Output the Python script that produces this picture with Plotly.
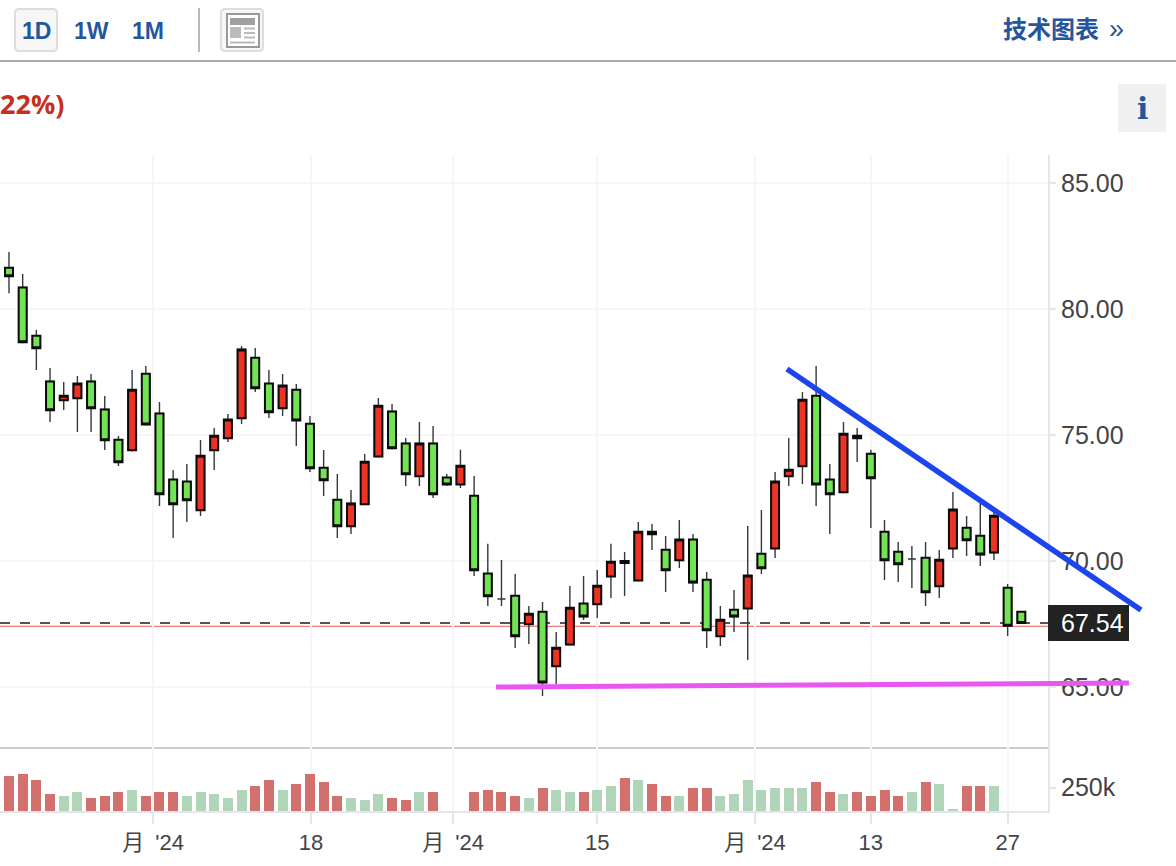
import plotly.graph_objects as go

W, H = 1176, 866
FONT = "Liberation Sans, Noto Sans CJK SC, sans-serif"

# ---- data ----
opens = [81.64,80.85,78.94,77.12,76.38,76.46,77.12,76.01,74.81,74.39,77.43,75.85,73.23,73.15,72.01,74.39,74.87,75.66,78.07,77.04,
         76.06,76.80,75.45,73.70,72.43,71.38,72.25,74.15,75.93,74.66,73.36,74.66,73.31,73.04,72.59,69.50,68.49,68.62,67.49,67.99,
         65.82,66.69,68.31,68.28,69.39,69.92,69.23,71.16,70.45,70.03,70.85,69.26,67.01,68.07,68.12,70.29,70.50,73.36,73.76,76.56,
         73.23,72.73,74.97,74.26,71.16,70.37,70.08,70.13,69.00,70.50,71.32,71.00,70.34,68.94,67.99]
highs = [82.26,81.39,79.17,77.66,77.10,77.34,77.42,76.55,74.96,77.58,77.74,76.31,73.61,73.85,74.80,75.28,75.83,78.53,78.45,77.58,
         77.42,77.02,75.75,74.40,73.45,72.82,74.25,76.47,76.23,74.88,75.52,75.36,73.45,74.41,73.37,70.68,70.04,69.48,68.21,68.37,
         67.18,69.01,69.41,69.64,70.68,70.36,71.55,71.47,70.99,71.63,71.07,69.56,68.21,68.85,71.39,72.02,73.53,74.88,76.71,77.74,
         73.85,75.52,75.28,74.41,71.63,70.75,70.60,70.75,70.44,72.74,71.79,72.34,71.94,69.09,67.99]
lows = [80.62,78.64,77.58,75.52,75.99,75.12,75.12,74.40,73.77,74.35,75.38,72.18,70.91,71.55,71.79,73.61,74.72,75.44,76.71,75.67,
        75.75,74.56,73.53,72.58,70.91,71.07,72.21,74.11,74.43,72.98,72.98,72.50,72.98,72.90,69.41,68.21,68.21,66.55,66.71,64.64,
        65.12,66.65,67.66,67.74,68.53,68.61,69.19,70.44,68.77,69.72,68.77,66.55,66.63,67.18,66.07,69.48,70.12,72.98,73.06,72.18,
        71.07,72.69,73.93,71.31,69.25,69.17,68.93,68.21,68.53,70.12,70.20,69.80,70.04,67.02,67.54]
closes = [81.30,78.68,78.44,75.98,76.56,77.04,76.06,74.79,73.92,76.80,75.42,72.65,72.25,72.41,74.18,74.97,75.61,78.39,76.85,75.90,
          76.96,75.58,73.68,73.20,71.38,72.28,73.94,76.16,74.47,73.44,74.66,72.65,73.04,73.78,69.63,68.60,68.49,67.01,67.91,65.18,
          66.56,68.15,67.80,69.02,69.97,70.00,71.16,71.06,69.63,70.85,69.15,67.25,67.67,67.80,69.42,69.71,73.15,73.62,76.40,73.04,
          72.65,75.05,74.87,73.28,70.03,69.87,70.08,68.76,70.05,72.04,70.82,70.26,71.80,67.43,67.54]
volumes = [375,396,332,182,161,204,139,161,204,225,161,204,204,161,204,182,139,225,268,332,
           225,289,396,311,161,139,118,182,139,118,204,204,None,None,204,225,204,161,139,246,
           225,204,204,225,268,354,332,289,161,161,246,246,161,182,332,225,246,246,246,311,
           204,182,204,161,225,161,204,311,289,11,268,268,268]
vol_side = list("rrrrggrrrgrrrgggggrrgrrrrgggrrgr") + ["r", "r"] + list("rrrrgrggr") + \
           list("ggrgrrgrrgggggggrrgrrrrgrggrrg")
tick_pos = [10.53, 22.07, 32.46, 43.0, 54.53, 63.0, 73.0]
tick_text = ["月\u2002'24", "18", "月\u2002'24", "15", "月\u2002'24", "13", "27"]
price_ticks = [65, 70, 75, 80, 85]
last_close = 67.54
ref_price = 67.41
trend_blue_x, trend_blue_y = [56.87, 82.75], [77.62, 68.06]
trend_pink_x, trend_pink_y = [35.6, 81.87], [65.00, 65.16]

days = list(range(len(opens)))
vol_days = days[:len(volumes)]
body = [i for i in days if opens[i] != closes[i]]

# ---- style ----
RED, GREEN = "#ee3224", "#72e352"
VRED, VGREEN = "#d1706d", "#b0d5b8"
BLUE = "#25569b"
AX = "#e3e6ec"
GRID = "#f6f6f6"
TXT = "#444444"


def px(x):
    return x / W


def py(y):
    return 1 - y / H


def rrect(x0, y0, x1, y1, r, **kw):
    a, b, c, d = px(x0), py(y0), px(x1), py(y1)
    rx, ry = r / W, r / H
    path = (f"M{a+rx},{b} L{c-rx},{b} Q{c},{b} {c},{b-ry} L{c},{d+ry} Q{c},{d} {c-rx},{d} "
            f"L{a+rx},{d} Q{a},{d} {a},{d+ry} L{a},{b-ry} Q{a},{b} {a+rx},{b} Z")
    return dict(type="path", path=path, xref="paper", yref="paper", **kw)


def rect(x0, y0, x1, y1, fill=None, line=None, lw=0):
    return dict(type="rect", xref="paper", yref="paper", x0=px(x0), x1=px(x1), y0=py(y0), y1=py(y1),
                fillcolor=fill or "rgba(0,0,0,0)", line=dict(color=line or "rgba(0,0,0,0)", width=lw))


def hline(x0, x1, y, color, lw):
    return dict(type="line", xref="paper", yref="paper", x0=px(x0), x1=px(x1), y0=py(y), y1=py(y),
                line=dict(color=color, width=lw))


def label(x, y, text, size, color, anchor="center", bold=False, family=FONT):
    t = f"<b>{text}</b>" if bold else text
    return dict(xref="paper", yref="paper", x=px(x), y=py(y), text=t, showarrow=False, xanchor=anchor,
                yanchor="middle", font=dict(size=size, color=color, family=family))


fig = go.Figure()

# wicks (and flat sessions)
fig.add_trace(go.Candlestick(
    x=days, open=opens, high=highs, low=lows, close=closes, xaxis="x", yaxis="y",
    increasing=dict(line=dict(color="#33393c", width=1.4), fillcolor="rgba(0,0,0,0)"),
    decreasing=dict(line=dict(color="#33393c", width=1.4), fillcolor="rgba(0,0,0,0)"),
    whiskerwidth=0, hoverinfo="skip", showlegend=False))
# bodies
b_open = [opens[i] for i in body]
b_close = [closes[i] for i in body]
fig.add_trace(go.Candlestick(
    x=body, open=b_open, close=b_close,
    high=[max(o, c) for o, c in zip(b_open, b_close)],
    low=[min(o, c) for o, c in zip(b_open, b_close)],
    xaxis="x", yaxis="y",
    increasing=dict(line=dict(color="#0b0b0b", width=2), fillcolor=RED),
    decreasing=dict(line=dict(color="#0b0b0b", width=2), fillcolor=GREEN),
    whiskerwidth=0, hoverinfo="skip", showlegend=False))
# volume
fig.add_trace(go.Bar(
    x=vol_days, y=volumes, xaxis="x2", yaxis="y2", width=0.73,
    marker=dict(color=[VRED if s == "r" else VGREEN for s in vol_side], line=dict(width=0)),
    showlegend=False))
# hand-drawn trend lines, allowed to run over the axis labels
fig.add_trace(go.Scatter(x=trend_pink_x, y=trend_pink_y, mode="lines", xaxis="x3", yaxis="y3",
                         line=dict(color="#e857f0", width=5), showlegend=False))
fig.add_trace(go.Scatter(x=trend_blue_x, y=trend_blue_y, mode="lines", xaxis="x3", yaxis="y3",
                         line=dict(color="#1c45ee", width=5.5), showlegend=False))

XR = [-0.658, 75.95]
YR = [62.62, 86.11]
P_DOM = [py(747), py(155)]
V_DOM = [py(811), py(747)]

shapes = [
    dict(type="line", xref="paper", yref="y", x0=0, x1=px(1048), y0=ref_price, y1=ref_price,
         line=dict(color="#ee5a52", width=1), layer="below"),
    dict(type="line", xref="paper", yref="y", x0=0, x1=px(1048), y0=last_close, y1=last_close,
         line=dict(color="#555555", width=2, dash="10px,10px"), layer="below"),
    rect(1048, 605, 1129, 641, fill="#222222"),
    # toolbar
    hline(0, W, 61, "#ababab", 2),
    rrect(15, 9, 57, 51, 4, fillcolor="#f7f7f7", line=dict(color="#dddddd", width=2)),
    dict(type="line", xref="paper", yref="paper", x0=px(199), x1=px(199), y0=py(8), y1=py(52),
         line=dict(color="#b8b8b8", width=2)),
    rrect(221, 9, 263, 51, 4, fillcolor="#f7f7f7", line=dict(color="#dddddd", width=2)),
    rect(227, 14, 259, 47, fill="#ffffff", line="#999999", lw=2),
    rect(230, 18, 255, 25, fill="#a0a0a0"),
    rect(230, 27, 241, 38, fill="#bbbbbb"),
    hline(244, 255, 28.5, "#bbbbbb", 2),
    hline(244, 255, 33, "#bbbbbb", 2),
    hline(244, 255, 37.5, "#bbbbbb", 2),
    hline(230, 255, 42.5, "#bbbbbb", 2),
    rect(1118, 84, 1166, 132, fill="#f0f0f0"),
]

annotations = [
    dict(xref="paper", yref="y", x=px(1059), y=last_close, text=f"{last_close:.2f}", showarrow=False,
         xanchor="left", yanchor="middle", font=dict(size=25, color="#ffffff", family=FONT)),
    label(36, 31, "1D", 23, BLUE, bold=True),
    label(91, 31, "1W", 23, BLUE, bold=True),
    label(148, 31, "1M", 23, BLUE, bold=True),
    label(1001, 30, "技术图表", 24, BLUE, "left", bold=True),
    label(1116, 29, "»", 27, BLUE),
    label(66, 104, "22%)", 27, "#c5301f", "right", bold=True, family="Open Sans"),
    label(1142, 108, "i", 30, BLUE, bold=True, family="DejaVu Serif"),
]

common_x = dict(type="linear", range=XR, domain=[0, px(1048)], tickmode="array", tickvals=tick_pos,
                showgrid=True, gridcolor=GRID, gridwidth=2, zeroline=False, rangeslider=dict(visible=False))
fig.update_layout(
    width=W, height=H, margin=dict(l=0, r=0, t=0, b=0), paper_bgcolor="#ffffff", plot_bgcolor="rgba(0,0,0,0)",
    font=dict(family=FONT, color=TXT), showlegend=False, bargap=0,
    boxgap=0.165,
    xaxis=dict(**common_x, anchor="y", showticklabels=False, ticks="", showline=True, linecolor="#cccccc", linewidth=2),
    yaxis=dict(domain=P_DOM, range=YR, side="right", anchor="x", tickmode="array", tickvals=price_ticks,
               tickformat=".2f", showgrid=True, gridcolor=GRID, gridwidth=2, zeroline=False,
               showline=True, linecolor=AX, linewidth=2, ticks="outside", ticklen=6, tickwidth=2, tickcolor=AX,
               tickfont=dict(size=25, color=TXT)),
    xaxis2=dict(**common_x, anchor="y2", ticktext=tick_text, ticks="outside", ticklen=11, tickwidth=2, tickcolor=AX,
                showline=True, linecolor=AX, linewidth=2, tickfont=dict(size=22, color=TXT)),
    yaxis2=dict(domain=V_DOM, range=[0, 681], side="right", anchor="x2", tickmode="array", tickvals=[250],
                ticktext=["250k"], showgrid=False, zeroline=False, showline=True, linecolor=AX, linewidth=2,
                ticks="outside", ticklen=6, tickwidth=2, tickcolor=AX, tickfont=dict(size=25, color=TXT)),
    xaxis3=dict(domain=[0, 1], range=[-0.658, 85.31], anchor="y3", visible=False),
    yaxis3=dict(domain=P_DOM, range=YR, anchor="x3", visible=False),
    shapes=shapes, annotations=annotations,
)

fig.write_html("out.html", config=dict(displayModeBar=False),
               post_script="document.body.style.margin='0';document.body.style.overflow='hidden';")
